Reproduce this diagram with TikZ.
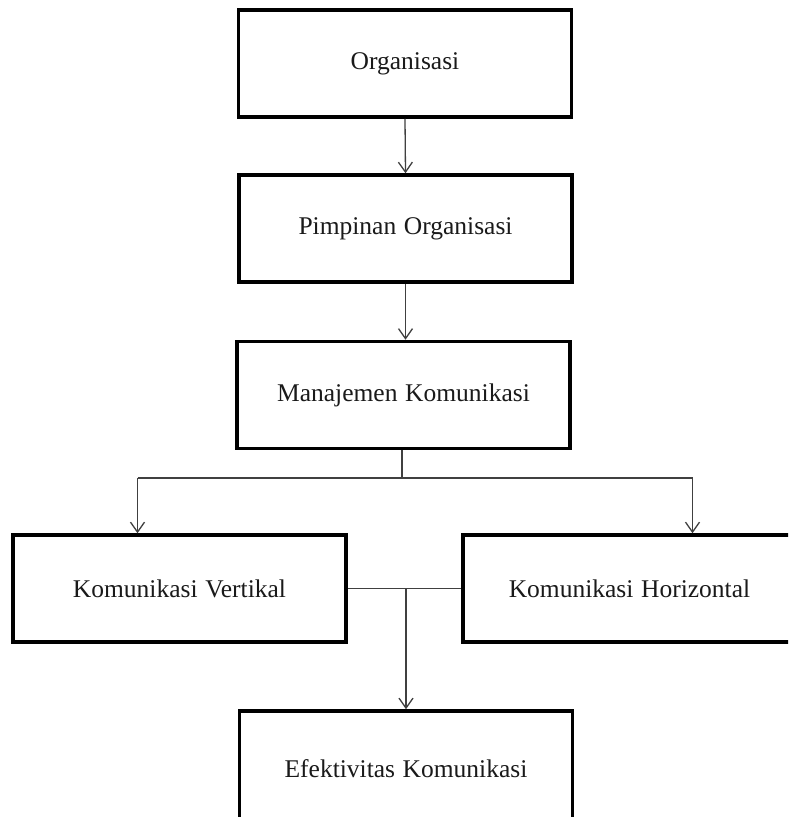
\documentclass[tikz,border=0pt]{standalone}
\usepackage{fontspec}
\setmainfont[WordSpace=1.2]{Liberation Serif}
\usetikzlibrary{arrows.meta}
\definecolor{conn}{HTML}{404040}
\definecolor{txt}{HTML}{1A1A1A}
\tikzset{
  box/.style={draw=black, line width=3.5pt, fill=white, minimum width=333pt, minimum height=107pt,
    inner sep=0pt, text=txt, font=\fontsize{25.5}{30}\selectfont},
  conline/.style={draw=conn, line width=1.3pt},
  arr/.style={conline, -{Straight Barb[length=10pt, width=14pt, line width=1.3pt]}}
}
\begin{document}
\begin{tikzpicture}[x=1pt,y=-1pt]
\clip (0,0) rectangle (788,817);
\fill[white] (0,0) rectangle (788,817);
\node[box] (org) at (405,63.5) {Organisasi};
\node[box] (pim) at (405.5,228.5) {Pimpinan Organisasi};
\node[box] (man) at (403.5,395) {Manajemen Komunikasi};
\node[box] (ver) at (179.5,588.5) {Komunikasi Vertikal};
\node[box] (hor) at (629.5,588.5) {Komunikasi Horizontal};
\node[box, minimum height=116pt] (efe) at (406,769) {\raisebox{0pt}{Efektivitas Komunikasi}};
\coordinate (j) at (402,478);
\coordinate (jl) at (137.5,478);
\coordinate (jr) at (692.5,478);
\coordinate (m) at (406,588);
\draw[arr] (org.south) -- (pim.north);
\draw[arr] (pim.south) -- (pim.south |- man.north);
\draw[conline] (man.south -| j) -- (j);
\draw[conline] (jl) -- (jr);
\draw[arr] (jl) -- (jl |- ver.north);
\draw[arr] (jr) -- (jr |- hor.north);
\draw[conline] (ver.east) -- (hor.west);
\draw[arr] (m) -- (efe.north);
\end{tikzpicture}
\end{document}
